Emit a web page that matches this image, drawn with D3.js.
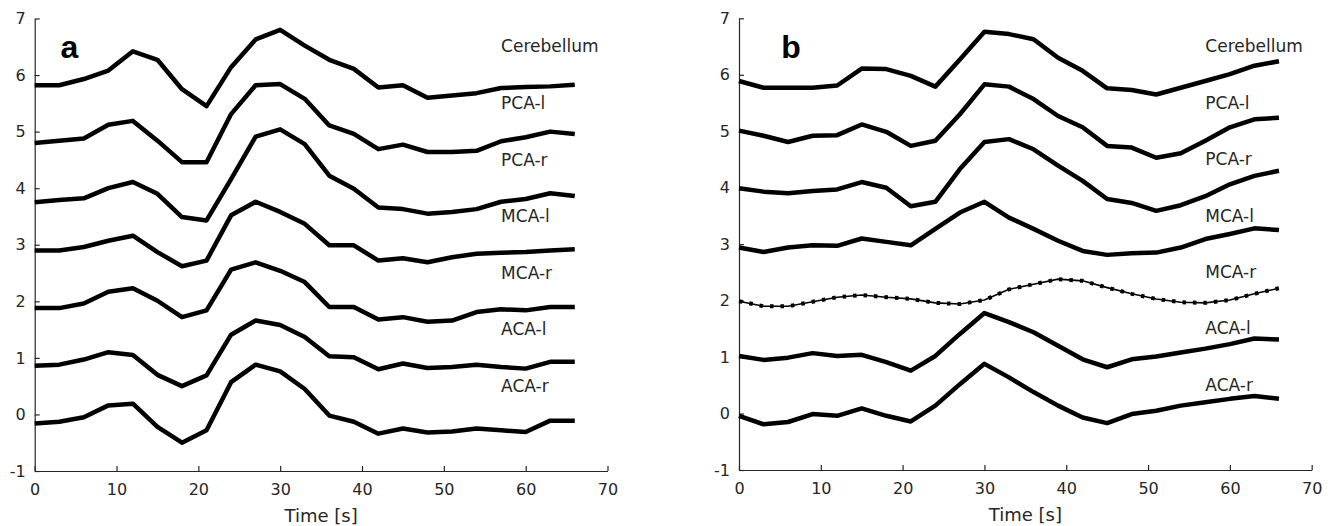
<!DOCTYPE html>
<html>
<head>
<meta charset="utf-8">
<script src="https://cdn.jsdelivr.net/npm/d3@7"></script>
<style>
  body { margin: 0; background: #fff; }
  svg text { font-family: "DejaVu Sans", sans-serif; fill: #262626; }
  .axis path, .axis line { stroke: #262626; stroke-width: 1.2; }
  .axis text { font-size: 16px; }
</style>
</head>
<body>
<div id="chart"></div>
<script>
// time points, seconds
var time = [0, 3, 6, 9, 12, 15, 18, 21, 24, 27, 30, 33, 36, 39, 42, 45, 48, 51, 54, 57, 60, 63, 66];
var regions = ["Cerebellum", "PCA-l", "PCA-r", "MCA-l", "MCA-r", "ACA-l", "ACA-r"];
var labelY = [6.4, 5.4, 4.4, 3.4, 2.4, 1.4, 0.4];
var labelX = 57;
var xTicks = [0, 10, 20, 30, 40, 50, 60, 70];
var yTicks = [-1, 0, 1, 2, 3, 4, 5, 6, 7];

// panel a
var cerebellumA = [5.82, 5.82, 5.93, 6.08, 6.42, 6.27, 5.75, 5.45, 6.14, 6.63, 6.80, 6.52, 6.27, 6.11, 5.78, 5.82, 5.60, 5.64, 5.68, 5.77, 5.79, 5.80, 5.83];
var pcaLA = [4.80, 4.84, 4.88, 5.12, 5.19, 4.84, 4.46, 4.46, 5.31, 5.82, 5.84, 5.58, 5.11, 4.96, 4.69, 4.77, 4.64, 4.64, 4.66, 4.83, 4.90, 5.00, 4.96];
var pcaRA = [3.75, 3.79, 3.82, 4.00, 4.11, 3.90, 3.49, 3.43, 4.16, 4.91, 5.04, 4.78, 4.22, 3.99, 3.66, 3.63, 3.55, 3.58, 3.63, 3.76, 3.81, 3.91, 3.86];
var mcaLA = [2.90, 2.90, 2.96, 3.07, 3.16, 2.87, 2.62, 2.72, 3.52, 3.76, 3.58, 3.37, 2.99, 2.99, 2.72, 2.76, 2.69, 2.78, 2.84, 2.86, 2.87, 2.90, 2.92];
var mcaRA = [1.88, 1.88, 1.96, 2.17, 2.23, 2.01, 1.72, 1.84, 2.56, 2.69, 2.54, 2.34, 1.90, 1.90, 1.68, 1.72, 1.64, 1.66, 1.81, 1.86, 1.84, 1.90, 1.90];
var acaLA = [0.86, 0.88, 0.97, 1.10, 1.05, 0.70, 0.50, 0.69, 1.41, 1.66, 1.58, 1.37, 1.03, 1.01, 0.80, 0.90, 0.82, 0.84, 0.88, 0.84, 0.81, 0.93, 0.93];
var acaRA = [-0.16, -0.13, -0.05, 0.16, 0.19, -0.22, -0.50, -0.28, 0.57, 0.88, 0.76, 0.45, -0.02, -0.13, -0.34, -0.25, -0.32, -0.30, -0.25, -0.28, -0.31, -0.11, -0.11];

// panel b
var cerebellumB = [5.89, 5.77, 5.77, 5.77, 5.81, 6.11, 6.10, 5.98, 5.79, 6.27, 6.76, 6.72, 6.63, 6.30, 6.07, 5.76, 5.73, 5.65, 5.77, 5.89, 6.01, 6.16, 6.24];
var pcaLB = [5.01, 4.92, 4.81, 4.92, 4.93, 5.12, 4.99, 4.74, 4.83, 5.30, 5.83, 5.79, 5.57, 5.27, 5.07, 4.74, 4.71, 4.53, 4.61, 4.83, 5.07, 5.21, 5.24];
var pcaRB = [3.99, 3.93, 3.90, 3.94, 3.97, 4.10, 4.00, 3.67, 3.75, 4.33, 4.81, 4.86, 4.68, 4.39, 4.12, 3.80, 3.73, 3.59, 3.69, 3.85, 4.06, 4.21, 4.30];
var mcaLB = [2.94, 2.86, 2.94, 2.98, 2.97, 3.10, 3.04, 2.98, 3.27, 3.56, 3.75, 3.47, 3.27, 3.06, 2.88, 2.81, 2.84, 2.85, 2.94, 3.09, 3.18, 3.28, 3.25];
var mcaRB = [1.99, 1.90, 1.90, 1.98, 2.06, 2.10, 2.06, 2.03, 1.96, 1.94, 2.01, 2.20, 2.29, 2.38, 2.35, 2.23, 2.12, 2.03, 1.97, 1.96, 2.01, 2.12, 2.22];
var acaLB = [1.02, 0.95, 0.99, 1.07, 1.02, 1.04, 0.91, 0.76, 1.02, 1.41, 1.78, 1.62, 1.44, 1.20, 0.96, 0.82, 0.96, 1.01, 1.08, 1.15, 1.23, 1.33, 1.31];
var acaRB = [-0.04, -0.19, -0.15, -0.01, -0.04, 0.09, -0.04, -0.14, 0.14, 0.52, 0.88, 0.64, 0.38, 0.14, -0.07, -0.17, -0.01, 0.05, 0.14, 0.20, 0.26, 0.31, 0.26];

var width = 1334, height = 526;
var svg = d3.select("#chart").append("svg")
    .attr("width", width)
    .attr("height", height);

var panels = [
    { tag: "a", left: 34.7, right: 607.5, top: 18.5, bottom: 471,
      series: [cerebellumA, pcaLA, pcaRA, mcaLA, mcaRA, acaLA, acaRA], dotted: -1, tagX: 3.15 },
    { tag: "b", left: 739, right: 1311.7, top: 18.3, bottom: 470,
      series: [cerebellumB, pcaLB, pcaRB, mcaLB, mcaRB, acaLB, acaRB], dotted: 4, tagX: 5.15 }
];

panels.forEach(function (p) {
    var x = d3.scaleLinear().domain([0, 70]).range([p.left, p.right]);
    var y = d3.scaleLinear().domain([-1, 7]).range([p.bottom, p.top]);
    var g = svg.append("g");

    g.append("g")
        .attr("class", "axis")
        .attr("transform", "translate(0," + p.bottom + ")")
        .call(d3.axisBottom(x).tickValues(xTicks).tickFormat(function (d) { return String(d); })
            .tickSizeInner(-5).tickSizeOuter(0).tickPadding(13));
    g.append("g")
        .attr("class", "axis")
        .attr("transform", "translate(" + p.left + ",0)")
        .call(d3.axisLeft(y).tickValues(yTicks).tickFormat(function (d) { return String(d); })
            .tickSizeInner(-5).tickSizeOuter(0).tickPadding(9));
    g.selectAll(".axis .domain").attr("stroke", "#262626");

    var line = d3.line()
        .x(function (d, i) { return x(time[i]); })
        .y(function (d) { return y(d); });

    p.series.forEach(function (s, k) {
        if (k === p.dotted) {
            g.append("path")
                .attr("d", line(s))
                .attr("fill", "none")
                .attr("stroke", "#000")
                .attr("stroke-width", 1.6);
            g.append("path")
                .attr("d", line(s))
                .attr("fill", "none")
                .attr("stroke", "#000")
                .attr("stroke-width", 4)
                .attr("stroke-dasharray", "3.5,7");
        } else {
            g.append("path")
                .attr("d", line(s))
                .attr("fill", "none")
                .attr("stroke", "#000")
                .attr("stroke-width", 4.5)
                .attr("stroke-linejoin", "round");
        }
    });

    g.selectAll(".region")
        .data(regions)
        .enter()
        .append("text")
        .attr("class", "region")
        .attr("x", x(labelX))
        .attr("y", function (d, i) { return y(labelY[i]); })
        .style("font-size", "17px")
        .text(function (d) { return d; });

    g.append("text")
        .attr("x", x(35))
        .attr("y", p.bottom + 51)
        .attr("text-anchor", "middle")
        .style("font-size", "18px")
        .text("Time [s]");

    g.append("text")
        .attr("x", x(p.tagX))
        .attr("y", y(6.3))
        .style("font-family", "'Liberation Sans', Arial, sans-serif")
        .style("font-weight", "bold")
        .style("font-size", "32px")
        .style("fill", "#000")
        .text(p.tag);
});
</script>
</body>
</html>
